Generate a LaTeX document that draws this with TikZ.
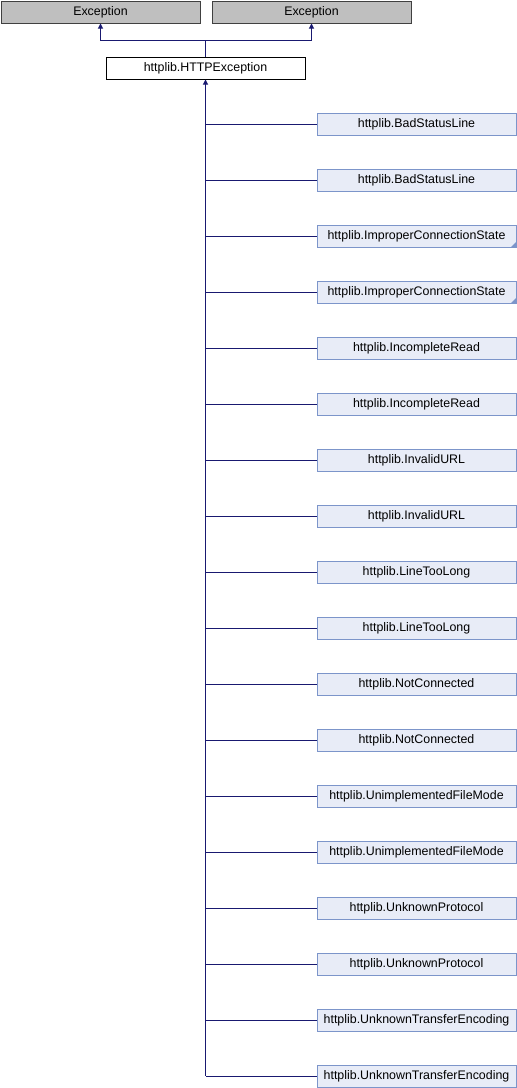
\documentclass[tikz,border=0pt]{standalone}
\usepackage{fontspec}
\setmainfont{Liberation Sans}
\usetikzlibrary{arrows.meta}
\definecolor{edgeblue}{RGB}{25,25,112}
\definecolor{childfill}{RGB}{232,236,247}
\definecolor{childline}{RGB}{124,149,202}
\definecolor{extfill}{RGB}{191,191,191}
\definecolor{extline}{RGB}{64,64,64}
\tikzset{
  box/.style={minimum width=199pt, minimum height=22pt, inner sep=0pt,
    font=\fontsize{12.4pt}{14pt}\selectfont, anchor=north west, line width=1pt},
  extbox/.style={box, draw=extline, fill=extfill},
  basebox/.style={box, draw=black, fill=white},
  childbox/.style={box, draw=childline, fill=childfill},
  link/.style={draw=edgeblue, line width=1pt},
  inherit/.style={link, -{Triangle[width=5pt,length=5pt]}},
}
\begin{document}
\begin{tikzpicture}[x=1pt,y=-1pt]
  \useasboundingbox (0,0) rectangle (517,1088);
  % external base classes
  \node[extbox] (exA) at (0.5,0.5) {Exception};
  \node[extbox] (exB) at (211.5,0.5) {Exception};
  % the base of the hierarchy
  \node[basebox] (base) at (105.5,56.5) {httplib.HTTPException};
  \coordinate (split) at (205.5,40.5);
  \draw[link] (base.north) -- (split);
  \draw[inherit] (split) -| (exA.south);
  \draw[inherit] (split) -| (exB.south);
  % derived classes
  \foreach [count=\i] \name/\trunc in {
      BadStatusLine/0, BadStatusLine/0,
      ImproperConnectionState/1, ImproperConnectionState/1,
      IncompleteRead/0, IncompleteRead/0,
      InvalidURL/0, InvalidURL/0,
      LineTooLong/0, LineTooLong/0,
      NotConnected/0, NotConnected/0,
      UnimplementedFileMode/0, UnimplementedFileMode/0,
      UnknownProtocol/0, UnknownProtocol/0,
      UnknownTransferEncoding/0, UnknownTransferEncoding/0} {
    \pgfmathsetmacro\ytop{112.5+(\i-1)*56}
    \node[childbox] (c\i) at (316.5,\ytop) {httplib.\name};
    \ifnum\trunc=1
      \fill[childline] (c\i.south east) -- ++(-6,0) -- ++(6,-6) -- cycle;
    \fi
    \draw[link] (c\i.west) -- ++(-111,0) coordinate (j\i);
  }
  \draw[inherit] (j18) -- (base.south);
\end{tikzpicture}
\end{document}
